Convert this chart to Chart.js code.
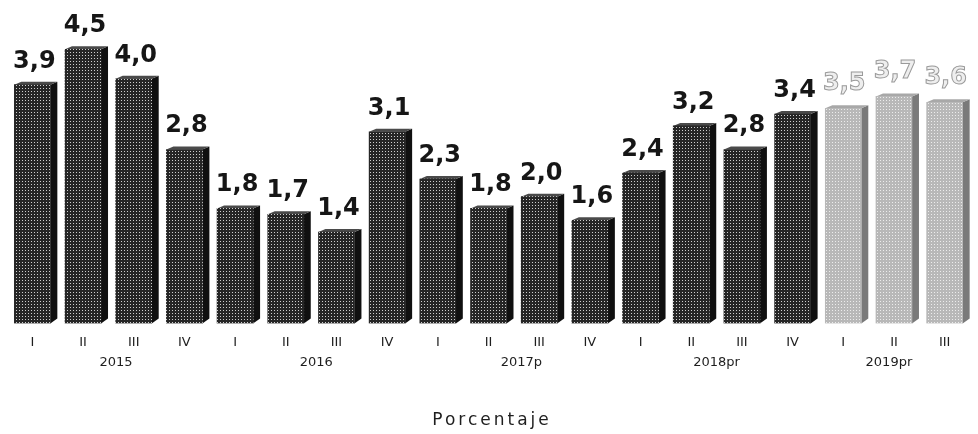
<!DOCTYPE html>
<html>
<head>
<meta charset="utf-8">
<script src="https://cdn.jsdelivr.net/npm/chart.js@4/dist/chart.umd.min.js"></script>
<style>
  html, body { margin: 0; padding: 0; background: #ffffff; }
  #wrap { width: 978px; height: 434px; position: relative; }
</style>
</head>
<body>
<div id="wrap"><canvas id="c" width="978" height="434"></canvas></div>
<script>
// ---- data ----
const quarters = ['I','II','III','IV','I','II','III','IV','I','II','III','IV','I','II','III','IV','I','II','III'];
const values   = [3.9, 4.5, 4.0, 2.8, 1.8, 1.7, 1.4, 3.1, 2.3, 1.8, 2.0, 1.6, 2.4, 3.2, 2.8, 3.4, 3.5, 3.7, 3.6];
const years    = ['2015', '2016', '2017p', '2018pr', '2019pr'];
const yearPos  = [1.65, 5.6, 9.65, 13.5, 16.9];   // category position of each year caption
const FIRST_FORECAST = 16;                        // 2019pr bars drawn lighter
const axisTitle = 'Porcentaje';

function makePattern(base, dot) {
  const p = document.createElement('canvas');
  p.width = 3; p.height = 3;
  const g = p.getContext('2d');
  g.fillStyle = base; g.fillRect(0, 0, 3, 3);
  g.fillStyle = dot; g.fillRect(1, 1, 1, 1);
  return g.createPattern(p, 'repeat');
}
const ctx0 = document.getElementById('c').getContext('2d');
const darkFace  = makePattern('#262626', '#cfcfcf');
const lightFace = makePattern('#b8b8b8', '#ececec');

const DX = 7, DY = 3;

const bar3d = {
  id: 'bar3d',
  beforeDatasetsDraw(chart) {
    const c = chart.ctx;
    const meta = chart.getDatasetMeta(0);
    meta.data.forEach((el, i) => {
      const { x, y, base, width } = el.getProps(['x','y','base','width'], true);
      const r = x + width / 2, l = x - width / 2;
      const light = i >= FIRST_FORECAST;
      c.save();
      // side face
      c.fillStyle = light ? '#7a7a7a' : '#101010';
      c.beginPath();
      c.moveTo(r, y); c.lineTo(r + DX, y - DY); c.lineTo(r + DX, base - DY - 2); c.lineTo(r, base);
      c.closePath(); c.fill();
      // top face
      c.fillStyle = light ? '#a8a8a8' : '#4a4a4a';
      c.beginPath();
      c.moveTo(l, y); c.lineTo(l + DX, y - DY); c.lineTo(r + DX, y - DY); c.lineTo(r, y);
      c.closePath(); c.fill();
      c.restore();
    });
  },
  afterDatasetsDraw(chart) {
    const c = chart.ctx;
    const meta = chart.getDatasetMeta(0);
    c.save();
    c.textAlign = 'center';
    c.textBaseline = 'alphabetic';
    meta.data.forEach((el, i) => {
      const { x, y } = el.getProps(['x','y'], true);
      const txt = values[i].toFixed(1).replace('.', ',');
      c.font = 'bold 24px "DejaVu Sans"';
      if (i >= FIRST_FORECAST) {
        c.fillStyle = '#eeeeee';
        c.fillText(txt, x + 1, y - 18);
        c.lineWidth = 1;
        c.strokeStyle = '#9a9a9a';
        c.strokeText(txt, x + 1, y - 18);
      } else {
        c.fillStyle = '#161616';
        c.fillText(txt, x + 2, y - 17);
      }
    });
    c.restore();
  },
  afterDraw(chart) {
    const c = chart.ctx;
    const xs = chart.scales.x;
    c.save();
    c.fillStyle = '#1e1e1e';
    c.textAlign = 'center';
    c.textBaseline = 'middle';
    c.font = '13px "DejaVu Sans"';
    years.forEach((yr, k) => {
      c.fillText(yr, xs.getPixelForValue(yearPos[k]), 363);
    });
    c.font = '17px "DejaVu Sans"';
    c.letterSpacing = '3px';
    c.fillText(axisTitle, 492, 421);
    c.restore();
  }
};

new Chart(ctx0, {
  type: 'bar',
  data: {
    labels: quarters,
    datasets: [{
      data: values,
      base: -0.15,
      barThickness: 36,
      borderWidth: 0,
      backgroundColor: (ctx) => ctx.dataIndex >= FIRST_FORECAST ? lightFace : darkFace
    }]
  },
  options: {
    responsive: false,
    animation: false,
    devicePixelRatio: 1,
    layout: { padding: { left: 7, right: 8, top: 8, bottom: 73 } },
    plugins: { legend: { display: false }, tooltip: { enabled: false } },
    scales: {
      y: { display: false, min: -0.15, max: 5.2 },
      x: {
        grid: { display: false, drawTicks: false },
        border: { display: false },
        ticks: { color: '#1e1e1e', font: { family: 'DejaVu Sans', size: 13 }, padding: 11, maxRotation: 0, autoSkip: false }
      }
    }
  },
  plugins: [bar3d]
});
</script>
</body>
</html>
